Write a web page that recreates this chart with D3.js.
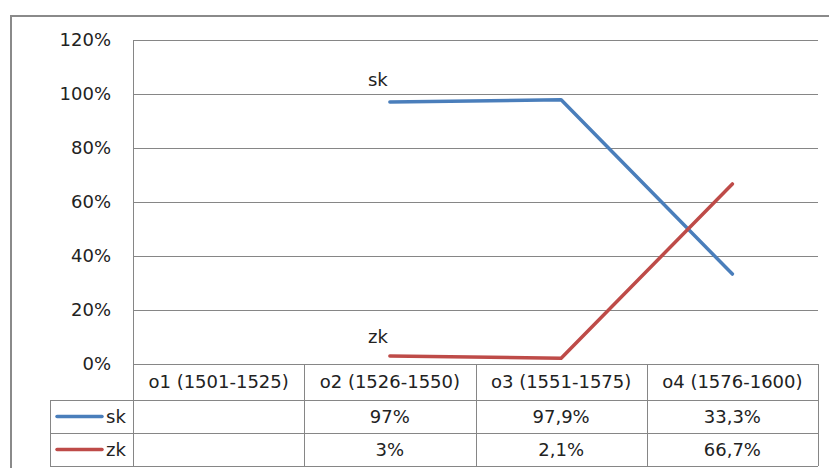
<!DOCTYPE html>
<html>
<head>
<meta charset="utf-8">
<script src="https://cdn.jsdelivr.net/npm/d3@7"></script>
<style>
  html, body { margin: 0; padding: 0; background: #fff; }
  svg { display: block; }
  text { font-family: "DejaVu Sans", sans-serif; font-size: 18px; fill: #222; }
</style>
</head>
<body>
<svg id="chart" width="829" height="468"></svg>
<script>
// Periods (x categories)
const categories = ["o1 (1501-1525)", "o2 (1526-1550)", "o3 (1551-1575)", "o4 (1576-1600)"];
// Share per period, in percent (null = no data)
const skValues = [null, 97, 97.9, 33.3];
const zkValues = [null, 3, 2.1, 66.7];
const seriesNames = ["sk", "zk"];
const seriesColors = ["#4a7ebb", "#be4b48"];
const yTicks = [0, 20, 40, 60, 80, 100, 120];

const series = [
  { name: seriesNames[0], values: skValues, color: seriesColors[0] },
  { name: seriesNames[1], values: zkValues, color: seriesColors[1] }
];

const svg = d3.select("#chart");
const plot = { left: 133, right: 818, top: 40, bottom: 364 };
const rowH = [36, 33, 33];
const legendLeft = 50;

const x = d3.scaleBand().domain(categories).range([plot.left, plot.right]);
const y = d3.scaleLinear().domain([0, 120]).range([plot.bottom, plot.top]);
const fmt = v => String(v).replace(".", ",") + "%";

// Outer frame
svg.append("rect")
  .attr("x", 11).attr("y", 16).attr("width", 840).attr("height", 470)
  .attr("fill", "none").attr("stroke", "#8a8a8a").attr("stroke-width", 2);

// Horizontal gridlines
svg.append("g").selectAll("line").data(yTicks).join("line")
  .attr("x1", plot.left).attr("x2", plot.right)
  .attr("y1", d => Math.round(y(d)) + 0.5).attr("y2", d => Math.round(y(d)) + 0.5)
  .attr("stroke", "#868686").attr("stroke-width", 1);

// Value axis line
svg.append("line")
  .attr("x1", plot.left + 0.5).attr("x2", plot.left + 0.5)
  .attr("y1", plot.top).attr("y2", plot.bottom)
  .attr("stroke", "#868686");

// Y tick labels
svg.append("g").selectAll("text").data(yTicks).join("text")
  .attr("x", 111).attr("y", d => y(d)).attr("dy", "0.36em")
  .attr("text-anchor", "end")
  .text(d => d + "%");

// Lines
const line = d3.line()
  .defined(d => d != null)
  .x((d, i) => x(categories[i]) + x.bandwidth() / 2)
  .y(d => y(d));

series.forEach(s => {
  svg.append("path")
    .datum(s.values)
    .attr("d", line)
    .attr("fill", "none")
    .attr("stroke", s.color)
    .attr("stroke-width", 3.5)
    .attr("stroke-linecap", "round")
    .attr("stroke-linejoin", "round");
});

// Series name labels at the first point of each line
series.forEach(s => {
  const i = s.values.findIndex(v => v != null);
  const px = x(categories[i]) + x.bandwidth() / 2;
  const py = y(s.values[i]);
  const above = s.name === "sk";
  svg.append("text")
    .attr("x", px - 12)
    .attr("y", above ? py - 23 : py - 19)
    .attr("dy", "0.36em")
    .attr("text-anchor", "middle")
    .text(s.name);
});

// Data table
const tableTop = plot.bottom;
const rowTops = [tableTop, tableTop + rowH[0], tableTop + rowH[0] + rowH[1]];
const tableBottom = rowTops[2] + rowH[2];
const tg = svg.append("g");
const gridColor = "#868686";

// horizontal rules
tg.append("line").attr("x1", plot.left).attr("x2", plot.right)
  .attr("y1", tableTop + 0.5).attr("y2", tableTop + 0.5).attr("stroke", gridColor);
[rowTops[1], rowTops[2], tableBottom].forEach(yy => {
  tg.append("line").attr("x1", legendLeft).attr("x2", plot.right)
    .attr("y1", yy + 0.5).attr("y2", yy + 0.5).attr("stroke", gridColor);
});
// vertical rules
tg.append("line").attr("x1", legendLeft + 0.5).attr("x2", legendLeft + 0.5)
  .attr("y1", rowTops[1]).attr("y2", tableBottom).attr("stroke", gridColor);
const colEdges = [plot.left].concat(categories.map(c => x(c) + x.bandwidth()));
colEdges.forEach(xx => {
  tg.append("line").attr("x1", Math.round(xx) + 0.5).attr("x2", Math.round(xx) + 0.5)
    .attr("y1", tableTop).attr("y2", tableBottom).attr("stroke", gridColor);
});

// header labels
tg.selectAll("text.cat").data(categories).join("text")
  .attr("class", "cat")
  .attr("x", d => x(d) + x.bandwidth() / 2)
  .attr("y", tableTop + rowH[0] / 2).attr("dy", "0.36em")
  .attr("text-anchor", "middle")
  .text(d => d);

// series rows
series.forEach((s, si) => {
  const top = rowTops[si + 1];
  const cy = top + rowH[si + 1] / 2;
  tg.append("line")
    .attr("x1", 57).attr("x2", 102).attr("y1", cy).attr("y2", cy)
    .attr("stroke", s.color).attr("stroke-width", 3.5).attr("stroke-linecap", "round");
  tg.append("text").attr("x", 106).attr("y", cy).attr("dy", "0.36em").text(s.name);
  tg.selectAll("text.v" + si).data(s.values).join("text")
    .attr("class", "v" + si)
    .attr("x", (d, i) => x(categories[i]) + x.bandwidth() / 2)
    .attr("y", cy).attr("dy", "0.36em")
    .attr("text-anchor", "middle")
    .text(d => d == null ? "" : fmt(d));
});
</script>
</body>
</html>
